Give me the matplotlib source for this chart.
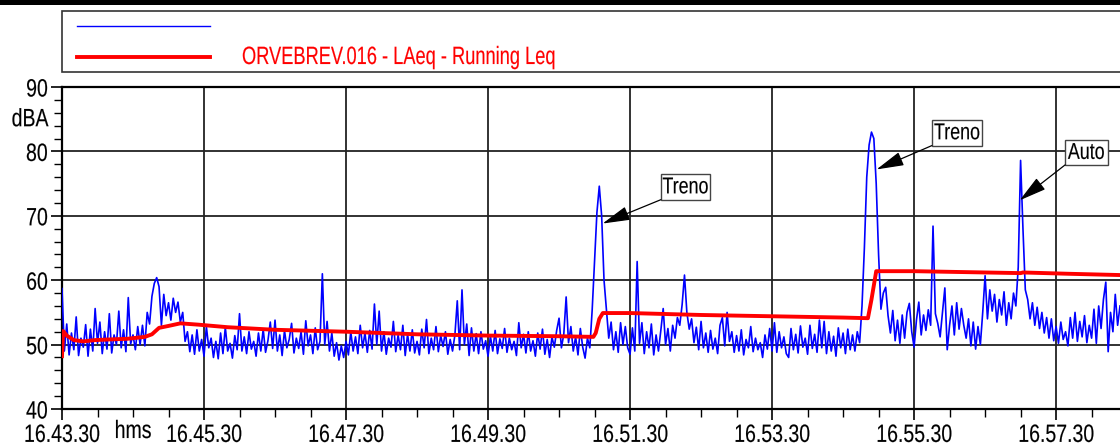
import numpy as np
import matplotlib
matplotlib.use('Agg')
import matplotlib.pyplot as plt
from matplotlib.patches import Rectangle
from matplotlib.lines import Line2D
from matplotlib.ticker import MultipleLocator
from matplotlib.patheffects import AbstractPathEffect
from matplotlib.transforms import Affine2D

FONT = ['Liberation Sans', 'Arial', 'DejaVu Sans']
plt.rcParams['font.family'] = FONT

# ---- data: LAeq (blue), sampled every 2 s from 16.43.30 ----
blue_db = [
    58.7, 49.0, 53.2, 48.4, 51.8, 49.2, 54.3, 48.3, 51.0, 49.6, 53.1, 48.2, 52.4, 49.0, 55.6,
    50.2, 53.5, 48.6, 52.0, 49.3, 54.8, 48.7, 51.5, 50.0, 55.2, 49.5, 52.3, 48.9, 57.3, 50.1,
    51.5, 49.2, 52.8, 50.0, 53.0, 49.8, 55.0, 53.2, 57.5, 59.5, 60.4, 59.0, 53.0, 57.8, 54.5,
    56.5, 53.8, 57.2, 55.0, 56.6, 53.5, 55.0, 50.5, 52.0, 48.9, 51.5, 48.5, 52.3, 49.0, 50.8,
    48.2, 52.8, 49.5, 51.0, 48.0, 50.5, 47.8, 51.8, 48.6, 52.7, 49.0, 50.2, 47.9, 51.4, 49.2,
    54.8, 49.0, 51.2, 48.6, 52.0, 49.3, 50.5, 48.2, 51.8, 49.0, 52.4, 48.8, 50.6, 53.5, 49.4,
    53.8, 49.0, 51.5, 48.3, 52.2, 49.5, 50.8, 53.3, 48.7, 51.0, 49.4, 52.0, 48.5, 53.7, 49.8,
    51.5, 48.6, 52.6, 49.2, 50.5, 61.0, 50.0, 53.6, 49.0, 51.8, 48.2, 50.3, 47.6, 49.8, 48.0,
    50.5, 48.4, 52.0, 49.0, 51.2, 48.6, 53.0, 49.5, 51.8, 48.8, 52.2, 49.3, 56.3, 50.0, 55.2,
    49.0, 52.0, 48.5, 51.0, 49.6, 53.6, 48.9, 51.5, 49.2, 53.0, 48.3, 51.6, 49.0, 52.3, 48.7,
    50.5, 48.4, 52.4, 49.5, 53.9, 48.6, 51.0, 49.2, 52.8, 48.9, 51.4, 49.7, 52.0, 48.5, 50.8,
    49.0, 51.5, 56.8, 49.2, 58.5, 50.0, 53.2, 48.3, 52.6, 49.0, 51.7, 48.6, 52.0, 49.3, 50.6,
    48.2, 51.3, 49.0, 52.2, 48.6, 50.9, 49.4, 52.5, 48.8, 51.0, 49.2, 50.5, 48.3, 53.4, 49.5,
    51.6, 48.7, 52.0, 49.0, 50.6, 48.2, 51.8, 49.3, 52.4, 48.5, 50.8, 48.0, 51.2, 49.6, 52.2,
    54.1, 49.5, 51.6, 57.4, 50.3, 52.8, 49.0, 51.2, 48.4, 52.5, 49.6, 47.9, 51.0, 49.5, 55.4,
    63.0, 70.5, 74.6, 70.0, 60.0, 55.5, 51.0, 53.5, 49.2, 52.0, 48.8, 53.4, 50.0, 52.8, 49.5,
    48.5, 52.6, 49.0, 62.9, 50.2, 53.4, 48.6, 52.0, 49.5, 53.2, 48.4, 51.5, 49.0, 52.2, 55.6,
    50.0, 52.5, 49.0, 53.0, 51.0, 54.2, 53.0, 56.2, 60.8, 55.0, 52.4, 54.0, 50.3, 52.7, 49.2,
    53.6, 49.5, 51.8, 48.8, 52.2, 49.3, 51.0, 48.6, 53.0, 54.2, 49.8, 55.0, 50.5, 52.0, 48.8,
    51.4, 49.0, 52.3, 48.4, 50.8, 49.5, 52.8, 48.9, 51.0, 49.2, 50.3, 48.0, 51.5, 49.3, 52.5,
    49.0, 53.4, 48.8, 52.0, 49.5, 51.2, 48.6, 48.0, 52.5, 49.2, 51.6, 48.7, 52.9, 49.6, 51.0,
    48.5, 53.0, 49.4, 51.6, 48.8, 53.8, 49.5, 53.6, 48.6, 52.0, 49.0, 51.3, 48.2, 52.6, 49.5,
    51.8, 48.6, 52.4, 49.2, 51.5, 49.0, 52.0, 50.3, 56.0, 65.0, 76.0, 81.0, 83.0, 82.0, 75.0,
    64.0, 55.5, 58.0, 58.9, 54.5, 51.8, 55.3, 50.6, 53.8, 50.2, 54.6, 51.0, 55.0, 56.4, 52.0,
    49.6, 53.8, 56.6, 51.5, 54.6, 52.2, 55.4, 53.0, 68.4, 54.8, 53.3, 51.2, 55.0, 58.8, 49.2,
    53.0, 56.0, 51.5, 56.5, 52.4, 55.6, 53.0, 51.0, 54.0, 49.8, 53.5, 49.3, 52.8, 50.0, 55.0,
    60.7, 54.0, 58.5, 55.2, 57.8, 53.5, 57.0, 54.6, 58.2, 53.0, 56.5, 54.0, 58.0, 56.0, 62.0,
    78.6, 68.0, 58.5, 57.0, 54.0, 56.5, 53.0, 55.8, 52.5, 55.0, 51.8, 54.2, 51.0, 54.0, 50.6,
    52.8, 50.2, 53.5, 50.8, 52.0, 49.8, 54.2, 51.0, 55.0, 50.5, 53.6, 51.2, 54.5, 50.3, 53.0,
    51.0, 55.5, 50.2, 56.0, 52.5, 57.0, 59.7, 48.9, 55.0, 52.0, 57.8, 53.0, 56.0,
]
blue_step_s = 2.0

# ---- data: running Leq (red) ----
red_t = [0, 1, 4, 10, 18, 28, 40, 55, 70, 76, 82, 90, 100, 115, 140, 180, 240, 300,
         360, 420, 449, 451, 454, 457, 480, 540, 600, 660, 681, 684, 688, 720, 780,
         810, 812, 850, 894]
red_db = [48.2, 52.1, 51.4, 50.7, 50.5, 50.7, 50.8, 50.9, 51.2, 51.6, 52.6, 52.9, 53.3,
          53.1, 52.7, 52.3, 52.0, 51.6, 51.4, 51.3, 51.2, 51.8, 54.0, 54.9, 54.9, 54.6,
          54.4, 54.2, 54.1, 57.0, 61.4, 61.4, 61.2, 61.1, 61.2, 61.0, 60.8]

x_ticks = [0, 120, 240, 360, 480, 600, 720, 840]
x_tick_labels = ['16.43.30', '16.45.30', '16.47.30', '16.49.30',
                 '16.51.30', '16.53.30', '16.55.30', '16.57.30']
y_ticks = [40, 50, 60, 70, 80, 90]

annot_texts = ['Treno', 'Treno', 'Auto']
annot_tips = [(456.8, 68.8), (688.3, 77.2), (809.2, 72.4)]
# label boxes: (t_left, t_right, dB_bottom, dB_top)
annot_boxes = [(506.0, 547.6, 72.5, 76.5), (735.0, 777.5, 80.9, 84.9),
               (847.6, 883.5, 77.9, 81.8)]

legend_label = 'ORVEBREV.016 - LAeq - Running Leq'


class HSqueeze(AbstractPathEffect):
    """Draw text horizontally condensed (narrow font look)."""

    def __init__(self, sx=0.8, anchor='left', stroke=0.1):
        super().__init__()
        self.sx = sx
        self.anchor = anchor
        self.stroke = stroke

    def draw_path(self, renderer, gc, tpath, affine, rgbFace=None):
        ext = tpath.get_extents()
        if self.anchor == 'center':
            cx = 0.5 * (ext.x0 + ext.x1)
        elif self.anchor == 'right':
            cx = ext.x1
        else:
            cx = 0.0
        t = Affine2D().translate(-cx, 0).scale(self.sx, 1.0).translate(cx, 0) + affine
        gc0 = renderer.new_gc()
        gc0.copy_properties(gc)
        gc0.set_linewidth(self.stroke)
        if rgbFace is not None:
            gc0.set_foreground(rgbFace)
        renderer.draw_path(gc0, tpath, t, rgbFace)
        gc0.restore()


SQ = 0.78
FS = 18

# ---- figure ----
W, H = 1120, 446
fig = plt.figure(figsize=(W / 100, H / 100), dpi=100)
fig.patch.set_facecolor('white')
ax = fig.add_axes([62 / W, 37 / H, 1058 / W, 322 / H])
ax.set_xlim(0, 894)
ax.set_ylim(40, 90)

blue_t = np.arange(len(blue_db)) * blue_step_s
ax.plot(blue_t, blue_db, color='#0000ff', lw=1.2, zorder=3)
ax.plot(red_t, red_db, color='#ff0000', lw=2.8, zorder=4, solid_joinstyle='round')

ax.set_xticks(x_ticks)
ax.set_xticklabels(x_tick_labels)
ax.set_yticks(y_ticks)
ax.xaxis.set_minor_locator(MultipleLocator(30))
ax.yaxis.set_minor_locator(MultipleLocator(2))
ax.tick_params(which='major', direction='out', length=8, width=1.2, labelsize=FS,
               colors='black')
ax.tick_params(axis='x', which='major', pad=2)
ax.tick_params(axis='y', which='major', pad=2)
ax.tick_params(which='minor', direction='out', length=6, width=1.0)
ax.grid(True, which='major', color='#222222', lw=1.3)
ax.set_axisbelow(True)
for s in ['left', 'bottom', 'top']:
    ax.spines[s].set_linewidth(1.6)
    ax.spines[s].set_color('black')
ax.spines['right'].set_visible(False)


def squeeze_ticks():
    for lab in ax.get_xticklabels():
        lab.set_path_effects([HSqueeze(SQ, 'center')])
    for lab in ax.get_yticklabels():
        lab.set_path_effects([HSqueeze(SQ, 'right')])


squeeze_ticks()

ax.text(-0.013, 85.0, 'dBA', transform=ax.get_yaxis_transform(), ha='right',
        va='center', fontsize=FS, path_effects=[HSqueeze(SQ, 'right')])
ax.text(60, -10 / 322, 'hms', transform=ax.get_xaxis_transform(), ha='center',
        va='top', fontsize=FS, path_effects=[HSqueeze(SQ, 'center')])

for txt, tip, (x0, x1, y0, y1) in zip(annot_texts, annot_tips, annot_boxes):
    ax.add_patch(Rectangle((x0, y0), x1 - x0, y1 - y0, facecolor='white',
                           edgecolor='#444444', lw=1.0, zorder=6))
    ax.text(0.5 * (x0 + x1), 0.5 * (y0 + y1), txt, ha='center', va='center',
            fontsize=16.5, zorder=7, path_effects=[HSqueeze(0.78, 'center')])
    ax.annotate('', xy=tip, xytext=(x0, y0), zorder=6,
                arrowprops=dict(arrowstyle='-|>,head_length=0.85,head_width=0.22',
                                mutation_scale=20, lw=0.9, color='black',
                                shrinkA=0, shrinkB=0))

# ---- legend box at top ----
fig.patches.append(Rectangle((0, 1 - 5 / H), 1, 5 / H, transform=fig.transFigure,
                             facecolor='black', edgecolor='none'))
fig.patches.append(Rectangle((62 / W, 1 - 72 / H), 1.2, 61 / H, transform=fig.transFigure,
                             facecolor='white', edgecolor='#333333', lw=1.2))
fig.lines.append(Line2D([77 / W, 210 / W], [1 - 26 / H, 1 - 26 / H],
                        transform=fig.transFigure, color='#0000ff', lw=1.0))
fig.lines.append(Line2D([77 / W, 210 / W], [1 - 57 / H, 1 - 57 / H],
                        transform=fig.transFigure, color='#ff0000', lw=2.8))
fig.text(242 / W, 1 - 57 / H, legend_label, color='#ff0000', fontsize=FS,
         ha='left', va='center', path_effects=[HSqueeze(0.73, 'left')])

fig.canvas.draw()
squeeze_ticks()
fig.savefig('out.png', dpi=100)
